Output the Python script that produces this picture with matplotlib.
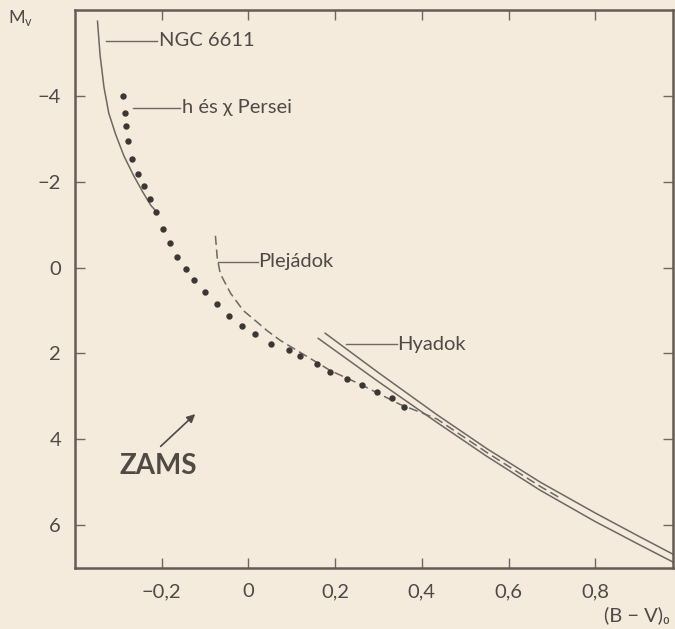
import numpy as np
import matplotlib.pyplot as plt

plt.rcParams['font.family'] = ['Lato', 'DejaVu Sans']

# NGC 6611 (solid line)
ngc_bv = [-0.348, -0.342, -0.333, -0.322, -0.306, -0.287, -0.265, -0.243, -0.225, -0.210]
ngc_mv = [-5.74, -4.95, -4.20, -3.60, -3.10, -2.60, -2.15, -1.75, -1.45, -1.28]

# h es chi Persei (dots)
per_bv = [-0.290, -0.285, -0.283, -0.277, -0.268, -0.254, -0.241, -0.226, -0.213, -0.198,
          -0.180, -0.164, -0.145, -0.126, -0.099, -0.072, -0.045, -0.015, 0.016, 0.051,
          0.093, 0.120, 0.158, 0.189, 0.227, 0.262, 0.297, 0.331, 0.358]
per_mv = [-4.00, -3.61, -3.30, -2.94, -2.53, -2.18, -1.91, -1.60, -1.29, -0.91,
          -0.57, -0.24, 0.03, 0.30, 0.57, 0.84, 1.12, 1.35, 1.54, 1.77,
          1.93, 2.05, 2.24, 2.43, 2.59, 2.74, 2.90, 3.05, 3.25]

# Plejadok (dashed)
ple_bv = [-0.076, -0.072, -0.065, -0.041, -0.012, 0.020, 0.043, 0.074, 0.120, 0.189,
          0.258, 0.350, 0.396, 0.435, 0.550, 0.673, 0.719]
ple_mv = [-0.74, -0.24, 0.14, 0.60, 1.00, 1.27, 1.47, 1.70, 1.98, 2.40,
          2.72, 3.19, 3.37, 3.53, 4.31, 5.10, 5.37]

# Hyadok (two solid lines)
hya1_bv = [0.177, 0.300, 0.435, 0.550, 0.673, 0.800, 0.900, 1.0]
hya1_mv = [1.53, 2.45, 3.43, 4.22, 5.00, 5.72, 6.26, 6.79]
hya2_bv = [0.161, 0.300, 0.435, 0.550, 0.673, 0.800, 0.900, 1.0]
hya2_mv = [1.65, 2.66, 3.61, 4.40, 5.19, 5.92, 6.45, 6.97]

xticks = [-0.2, 0, 0.2, 0.4, 0.6, 0.8]
xlabels = ['\u22120,2', '0', '0,2', '0,4', '0,6', '0,8']
yticks = [-4, -2, 0, 2, 4, 6]
ylabels = ['\u22124', '\u22122', '0', '2', '4', '6']

bg = '#f4ebdd'
ink = '#504a45'
line_c = '#6e6863'

fig = plt.figure(figsize=(6.75, 6.29), dpi=100, facecolor=bg)
ax = fig.add_axes([0.111, 0.097, 0.886, 0.887], facecolor=bg)

ax.plot(ngc_bv, ngc_mv, '-', color=line_c, lw=1.1)
ax.plot(hya1_bv, hya1_mv, '-', color=line_c, lw=1.1)
ax.plot(hya2_bv, hya2_mv, '-', color=line_c, lw=1.1)
ax.plot(ple_bv, ple_mv, '--', color=line_c, lw=1.1, dashes=(6, 3))
ax.plot(per_bv, per_mv, 'o', color='#3c3733', ms=4.6, mec='none')

ax.set_xlim(-0.4, 0.979)
ax.set_ylim(7.0, -6.0)

ax.set_xticks(xticks)
ax.set_xticklabels(xlabels)
ax.set_yticks(yticks)
ax.set_yticklabels(ylabels)
ax.tick_params(direction='in', length=7, width=1, colors=line_c, labelcolor=ink,
               labelsize=14.5, top=True, right=True)
ax.tick_params(axis='x', pad=11)
ax.tick_params(axis='y', pad=10)
for s in ax.spines.values():
    s.set_color('#655c55')
    s.set_linewidth(1.8)

# labels with leader lines
fs = 14.5
ax.plot([-0.329, -0.210], [-5.28, -5.28], '-', color=line_c, lw=1)
ax.text(-0.205, -5.28, 'NGC 6611', color=ink, fontsize=fs, va='center', ha='left')
ax.plot([-0.265, -0.157], [-3.72, -3.72], '-', color=line_c, lw=1)
ax.text(-0.152, -3.72, 'h és \u03c7 Persei', color=ink, fontsize=fs, va='center', ha='left')
ax.plot([-0.069, 0.023], [-0.14, -0.14], '-', color=line_c, lw=1)
ax.text(0.023, -0.14, 'Plejádok', color=ink, fontsize=fs, va='center', ha='left')
ax.plot([0.224, 0.343], [1.79, 1.79], '-', color=line_c, lw=1)
ax.text(0.343, 1.79, 'Hyadok', color=ink, fontsize=fs, va='center', ha='left')

ax.annotate('', xy=(-0.118, 3.37), xytext=(-0.207, 4.21),
            arrowprops=dict(arrowstyle='-|>', color=ink, lw=1.2, mutation_scale=12))
ax.text(-0.208, 4.63, 'ZAMS', color=ink, fontsize=20, fontweight='bold', ha='center', va='center')

fig.text(0.012, 0.972, 'M$_\\mathregular{v}$', color=ink, fontsize=13, ha='left', va='center')
fig.text(0.943, 0.022, '(B \u2212 V)\u2080', color=ink, fontsize=14.5, ha='center', va='center')

plt.savefig('out.png', dpi=100, facecolor=bg)
